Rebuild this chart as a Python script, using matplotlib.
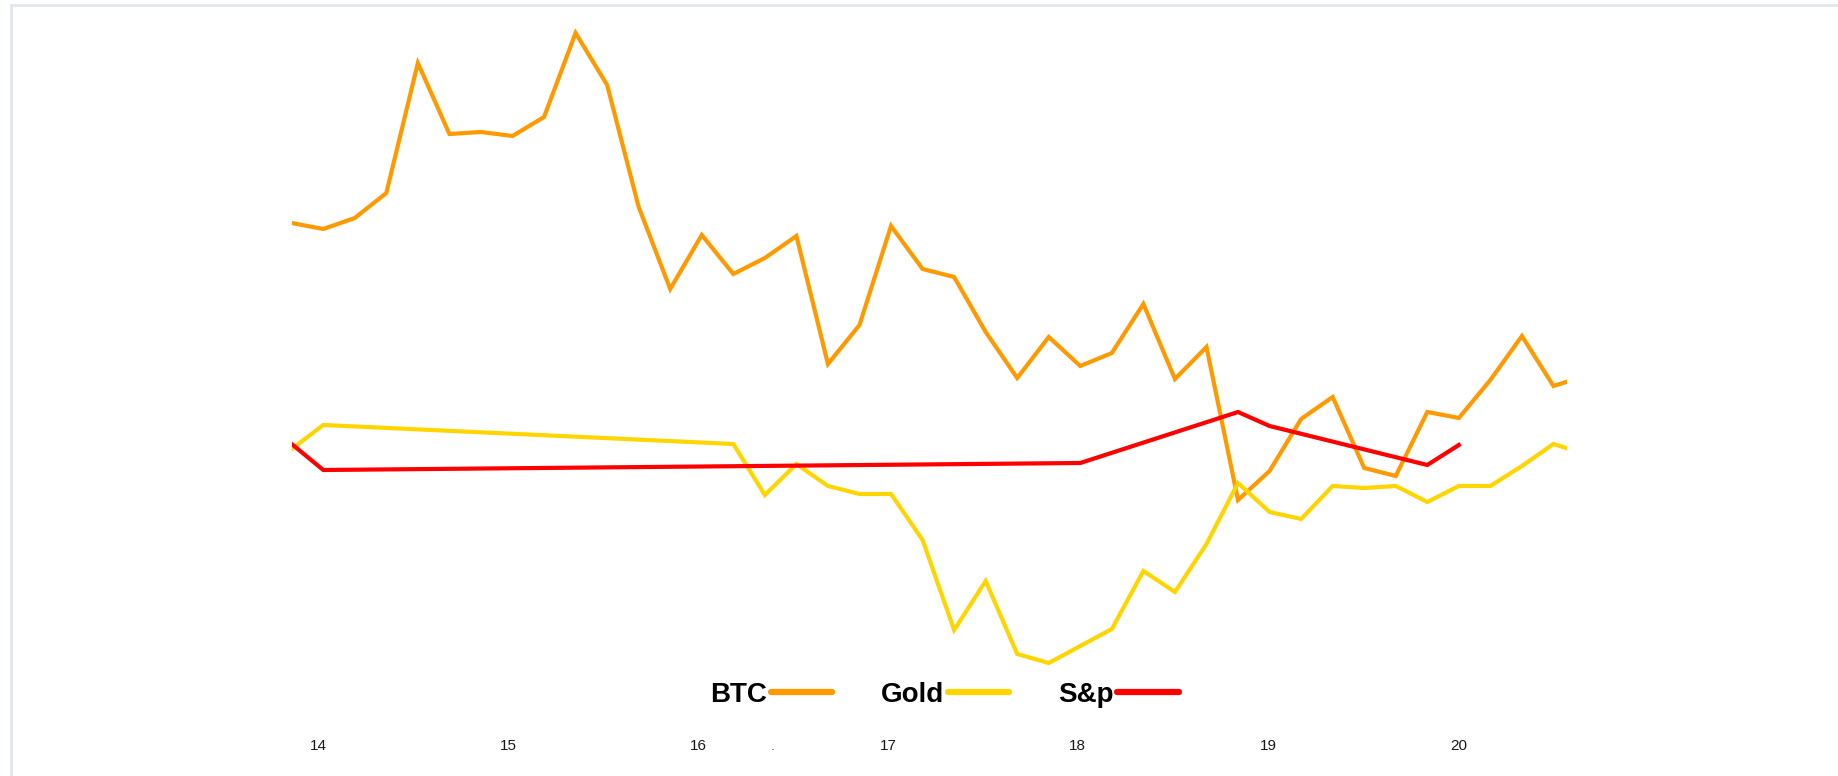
import matplotlib
matplotlib.use("Agg")
from matplotlib import pyplot as plt
from matplotlib.lines import Line2D
from matplotlib.patches import Rectangle

# price paths (relative level, same scale for all three series)
btc_idx = list(range(42))
btc = [477, 471, 482, 507, 637, 566, 568, 564, 583, 667,
       615, 493, 411, 465, 426, 442, 464, 336, 375, 474,
       431, 423, 368, 322, 363, 334, 347, 396, 321, 353,
       200, 229, 281, 303, 232, 224, 288, 282, 320, 364,
       314, 324]

gold_idx = [0, 1, 14, 15, 16, 17, 18, 19, 20, 21, 22, 23, 24, 25, 26, 27,
            28, 29, 30, 31, 32, 33, 34, 35, 36, 37, 38, 39, 40, 41]
gold = [251, 275, 256, 205, 236, 214, 206, 206, 160, 70, 119, 46, 37, 54,
        71, 129, 108, 156, 217, 188, 181, 214, 212, 214, 198, 214, 214,
        234, 256, 246]

sp_idx = [0, 1, 25, 30, 31, 36, 37]
sp = [256, 230, 237, 288, 274, 235, 255]

year_pos = [0.85, 6.88, 12.9, 18.9, 24.9, 30.95, 37.0]
year_labels = ["14", "15", "16", "17", "18", "19", "20"]

c_btc = "#ff9900"
c_gold = "#ffd500"
c_sp = "#ff0000"

fig = plt.figure(figsize=(18.38, 7.76), dpi=100)
fig.patch.set_facecolor("white")

# thin light frame around the picture
fig.patches.append(Rectangle((11 / 1838, -0.05), 1.2, 1.05 - 5.5 / 776,
                             transform=fig.transFigure, fill=False,
                             edgecolor="#e2e6ed", lw=2.0))

ax = fig.add_axes([291.7 / 1838, 76 / 776, 1275 / 1838, 680 / 776])
ax.plot(btc_idx, btc, color=c_btc, lw=3.0, solid_joinstyle="miter")
ax.plot(gold_idx, gold, color=c_gold, lw=3.0, solid_joinstyle="miter")
ax.plot(sp_idx, sp, color=c_sp, lw=3.0, solid_joinstyle="miter")

ax.set_xlim(0, 40.42)
ax.set_ylim(0, 680)
for s in ax.spines.values():
    s.set_visible(False)
ax.set_yticks([])
ax.set_xticks(year_pos, year_labels)
ax.tick_params(axis="x", length=0, pad=28, labelsize=11, labelcolor="#1a1a1a")
for lbl in ax.get_xticklabels():
    lbl.set_family(["Liberation Sans Narrow", "Liberation Sans"])

# stray dot between 16 and 17
fig.text(772.6 / 1838, 1 - 746 / 776, ".", fontsize=9, color="#444444",
         ha="center", va="center")

handles = [
    Line2D([], [], color=c_btc, lw=4.5, solid_capstyle="round"),
    Line2D([], [], color=c_gold, lw=4.5, solid_capstyle="round"),
    Line2D([], [], color=c_sp, lw=4.5, solid_capstyle="round"),
]
fig.legend(handles, ["BTC", "Gold", "S&p"], loc="center left",
           bbox_to_anchor=(696 / 1838, 1 - 694.5 / 776), ncol=3,
           frameon=False, markerfirst=False, borderpad=0,
           handlelength=2.2, handletextpad=0.15, columnspacing=1.75,
           prop={"family": "Liberation Sans", "weight": "bold", "size": 20})

fig.savefig("out.png", dpi=100, facecolor="white")
